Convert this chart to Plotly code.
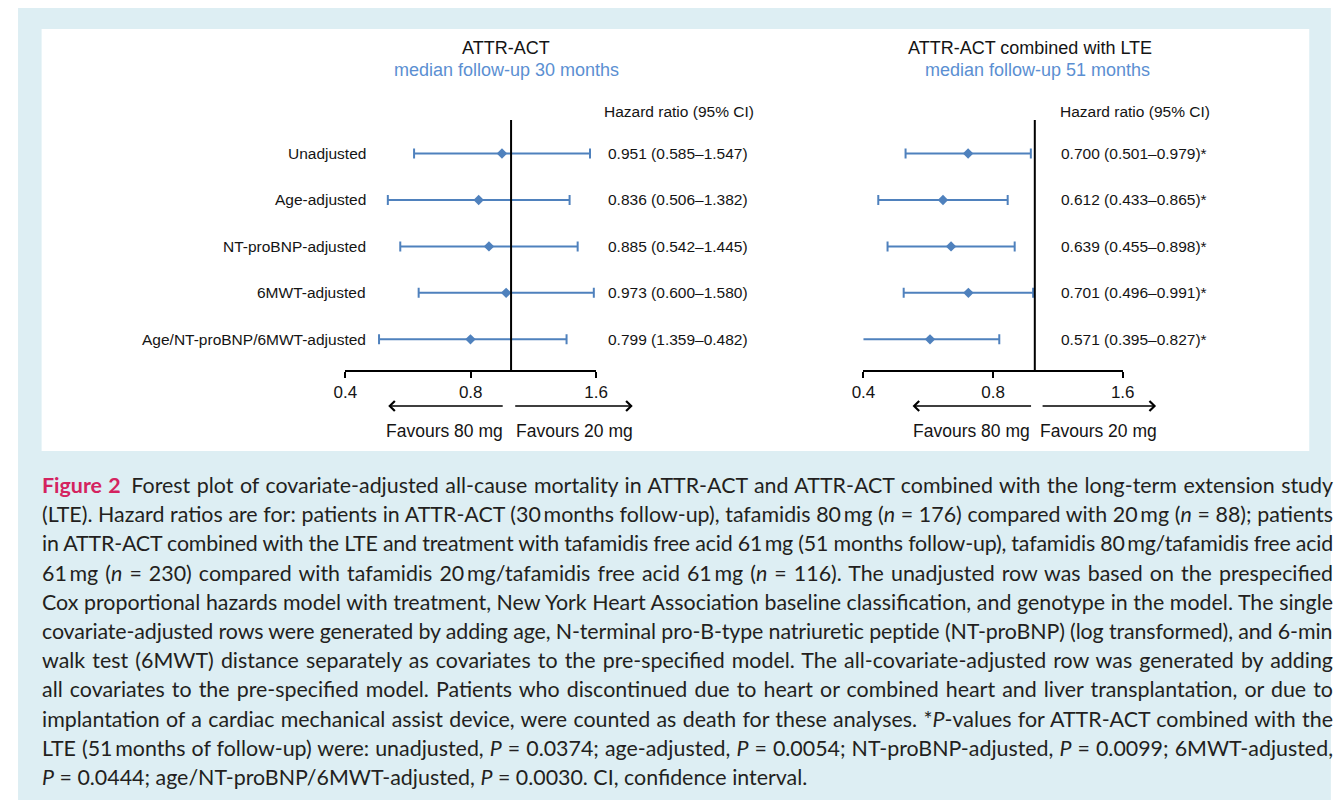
import plotly.graph_objects as go
import math
import json

# page is 1343x808; browser body keeps its default 8px margin,
# so the figure itself is 16px smaller and every design coordinate is shifted by 8px
PAGE_W, PAGE_H = 1343, 808
OFF = 8
W, H = PAGE_W - 2 * OFF, PAGE_H - 2 * OFF

# ---------------- data ----------------
rows = ["Unadjusted", "Age-adjusted", "NT-proBNP-adjusted", "6MWT-adjusted",
        "Age/NT-proBNP/6MWT-adjusted"]
row_pos = [5, 4, 3, 2, 1]

act_hr = [0.951, 0.836, 0.885, 0.973, 0.799]
act_lo = [0.585, 0.506, 0.542, 0.600, 0.482]
act_hi = [1.547, 1.382, 1.445, 1.580, 1.359]
act_text = ["0.951 (0.585\u20131.547)", "0.836 (0.506\u20131.382)", "0.885 (0.542\u20131.445)",
            "0.973 (0.600\u20131.580)", "0.799 (1.359\u20130.482)"]

lte_hr = [0.700, 0.612, 0.639, 0.701, 0.571]
lte_lo = [0.501, 0.433, 0.455, 0.496, 0.395]
lte_hi = [0.979, 0.865, 0.898, 0.991, 0.827]
lte_text = ["0.700 (0.501\u20130.979)*", "0.612 (0.433\u20130.865)*", "0.639 (0.455\u20130.898)*",
            "0.701 (0.496\u20130.991)*", "0.571 (0.395\u20130.827)*"]

tick_vals = [0.4, 0.8, 1.6]
tick_text = ["0.4", "0.8", "1.6"]
x_range = [0.4, 1.6]
ref_value = 1.0

titles = ["ATTR-ACT", "ATTR-ACT combined with LTE"]
subtitles = ["median follow-up 30 months", "median follow-up 51 months"]
favours = ["Favours 80 mg", "Favours 20 mg"]
header = "Hazard ratio (95% CI)"

caption_lines = [
    "<b><span style=\"color:#d4235f\">Figure 2</span></b>\u2002Forest plot of covariate-adjusted all-cause mortality in ATTR-ACT and ATTR-ACT combined with the long-term extension study",
    "(LTE). Hazard ratios are for: patients in ATTR-ACT (30\u2009months follow-up), tafamidis 80\u2009mg (<i>n</i> = 176) compared with 20\u2009mg (<i>n</i> = 88); patients",
    "in ATTR-ACT combined with the LTE and treatment with tafamidis free acid 61\u2009mg (51 months follow-up), tafamidis 80\u2009mg/tafamidis free acid",
    "61\u2009mg (<i>n</i> = 230) compared with tafamidis 20\u2009mg/tafamidis free acid 61\u2009mg (<i>n</i> = 116). The unadjusted row was based on the prespecified",
    "Cox proportional hazards model with treatment, New York Heart Association baseline classification, and genotype in the model. The single",
    "covariate-adjusted rows were generated by adding age, N-terminal pro-B-type natriuretic peptide (NT-proBNP) (log transformed), and 6-min",
    "walk test (6MWT) distance separately as covariates to the pre-specified model. The all-covariate-adjusted row was generated by adding",
    "all covariates to the pre-specified model. Patients who discontinued due to heart or combined heart and liver transplantation, or due to",
    "implantation of a cardiac mechanical assist device, were counted as death for these analyses. *<i>P</i>-values for ATTR-ACT combined with the",
    "LTE (51\u2009months of follow-up) were: unadjusted, <i>P</i> = 0.0374; age-adjusted, <i>P</i> = 0.0054; NT-proBNP-adjusted, <i>P</i> = 0.0099; 6MWT-adjusted,",
    "<i>P</i> = 0.0444; age/NT-proBNP/6MWT-adjusted, <i>P</i> = 0.0030. CI, confidence interval.",
]

# ---------------- styles ----------------
BLUE = "#4f81bd"
SUB_BLUE = "#5b8fd2"
CAP_BG = "#ddeef3"
TXT = "#141414"
FONT = "Liberation Sans, Arial, sans-serif"
CAP_FONT = "Lato, sans-serif"
BODY = 15.5


def px(x):
    return (x - OFF) / W


def py(y):
    return 1 - (y - OFF) / H


panels = [
    dict(hr=act_hr, lo=act_lo, hi=act_hi, text=act_text, x0=339.3, x1=594.7,
         title_cx=503, sub_cx=503, hdr_x=601, val_x=605,
         arrow_l=(499, 383), arrow_r=(513, 632), fav_cx=(440, 573)),
    dict(hr=lte_hr, lo=lte_lo, hi=lte_hi, text=lte_text, x0=867, x1=1131,
         title_cx=1037, sub_cx=1044, hdr_x=1065, val_x=1066,
         arrow_l=(1037, 917), arrow_r=(1050, 1165), fav_cx=(977, 1106)),
]

y_top_px, y_bot_px = 120, 370
y_range = [0.34, 5.72]

fig = go.Figure()
annotations = []
shapes = [
    dict(type="rect", xref="paper", yref="paper", x0=px(6), x1=px(1343), y0=py(808), y1=py(5),
         fillcolor=CAP_BG, line_width=0, layer="below"),
    dict(type="rect", xref="paper", yref="paper", x0=px(30), x1=px(1321), y0=py(451), y1=py(29),
         fillcolor="white", line_width=0, layer="below"),
]

layout_axes = {}
for i, p in enumerate(panels):
    n = "" if i == 0 else str(i + 1)
    xa, ya = "x" + n, "y" + n
    err_plus = [h - m for h, m in zip(p["hi"], p["hr"])]
    err_minus = [m - l for m, l in zip(p["hr"], p["lo"])]
    fig.add_trace(go.Scatter(
        x=p["hr"], y=row_pos, xaxis=xa, yaxis=ya, mode="markers",
        marker=dict(symbol="diamond", size=8, color=BLUE),
        error_x=dict(type="data", symmetric=False, array=err_plus, arrayminus=err_minus,
                     color=BLUE, thickness=2, width=5),
        showlegend=False, cliponaxis=False, hoverinfo="skip"))
    # reference line at HR = 1
    fig.add_trace(go.Scatter(
        x=[ref_value, ref_value], y=y_range, xaxis=xa, yaxis=ya, mode="lines",
        line=dict(color="black", width=2), showlegend=False, cliponaxis=False,
        hoverinfo="skip"))

    layout_axes["xaxis" + n] = dict(
        type="log", domain=[px(p["x0"]), px(p["x1"])],
        range=[math.log10(x_range[0]), math.log10(x_range[1])],
        anchor=ya, showline=True, linecolor="black", linewidth=1.5,
        ticks="outside", ticklen=6, tickwidth=1.5, tickcolor="black",
        tickvals=tick_vals, ticktext=tick_text, showgrid=False, zeroline=False,
        tickfont=dict(family=FONT, size=17, color=TXT), fixedrange=True)
    layout_axes["yaxis" + n] = dict(
        domain=[py(y_bot_px), py(y_top_px)], range=y_range, visible=False,
        anchor=xa, fixedrange=True)

    annotations.append(dict(text=titles[i], x=px(p["title_cx"]), y=py(48), xref="paper",
                            yref="paper", showarrow=False, xanchor="center", yanchor="middle",
                            font=dict(family=FONT, size=18, color=TXT)))
    annotations.append(dict(text=subtitles[i], x=px(p["sub_cx"]), y=py(70), xref="paper",
                            yref="paper", showarrow=False, xanchor="center", yanchor="middle",
                            font=dict(family=FONT, size=18, color=SUB_BLUE)))
    annotations.append(dict(text=header, x=px(p["hdr_x"]), y=py(112), xref="paper",
                            yref="paper", showarrow=False, xanchor="left", yanchor="middle",
                            font=dict(family=FONT, size=BODY, color=TXT)))
    for t, yy in zip(p["text"], row_pos):
        annotations.append(dict(text=t, x=px(p["val_x"]), y=yy, xref="paper", yref=ya,
                                showarrow=False, xanchor="left", yanchor="middle",
                                font=dict(family=FONT, size=BODY, color=TXT)))
    if i == 0:
        for t, yy in zip(rows, row_pos):
            annotations.append(dict(text=t, x=px(362), y=yy, xref="paper", yref=ya,
                                    showarrow=False, xanchor="right", yanchor="middle",
                                    font=dict(family=FONT, size=BODY, color=TXT)))
    for (tail, head) in (p["arrow_l"], p["arrow_r"]):
        annotations.append(dict(x=px(head), y=py(406), xref="paper", yref="paper",
                                ax=tail - head, ay=0, axref="pixel", ayref="pixel",
                                showarrow=True, arrowhead=4, arrowsize=1.3, arrowwidth=1.5,
                                arrowcolor="black", text=""))
    for t, cx in zip(favours, p["fav_cx"]):
        annotations.append(dict(text=t, x=px(cx), y=py(431), xref="paper", yref="paper",
                                showarrow=False, xanchor="center", yanchor="middle",
                                font=dict(family=FONT, size=17.5, color=TXT)))

# caption (justified lines except the last)
justify_idx = []
for k, line in enumerate(caption_lines):
    if k < len(caption_lines) - 1:
        justify_idx.append(len(annotations))
    annotations.append(dict(text=line, x=px(28), y=py(485 + 29.2 * k), xref="paper",
                            yref="paper", showarrow=False, xanchor="left", yanchor="middle",
                            align="left",
                            font=dict(family=CAP_FONT, size=21.4, color="#231f20")))

fig.update_layout(
    width=W, height=H, margin=dict(l=0, r=0, t=0, b=0),
    paper_bgcolor="white", plot_bgcolor="rgba(0,0,0,0)",
    shapes=shapes, annotations=annotations, **layout_axes)

justify_js = """
var gd = document.getElementById('{plot_id}');
var idx = %s;
var right = 1333;
idx.forEach(function(i){
  var g = gd.querySelector('g.annotation[data-index="' + i + '"] text.annotation-text');
  if(!g) return;
  var txt = g.textContent;
  var n = (txt.match(/ /g) || []).length;
  if(!n) return;
  var extra = right - g.getBoundingClientRect().right;
  if(extra >= 0){
    g.style.wordSpacing = (extra / n) + 'px';
  } else {
    g.style.letterSpacing = (extra / txt.length) + 'px';
  }
});
""" % json.dumps(justify_idx)

fig.write_html("out.html", config={"displayModeBar": False}, post_script=justify_js)
